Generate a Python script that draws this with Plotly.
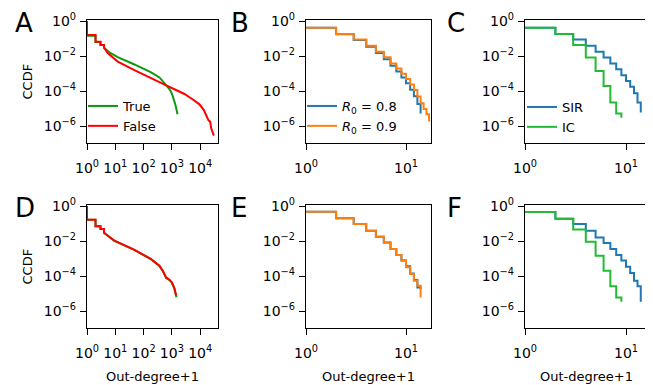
import plotly.graph_objects as go

# ---------------- data ----------------
# Panel A / D: CCDF of out-degree+1 (True / False).  Step part + tail part.
A_TRUE_STEP_X = [1, 2, 3]
A_TRUE_STEP_Y = [0.145, 0.063, 0.043]
A_TRUE_TAIL_X = [4, 6.2, 12.2, 47.4, 184.5, 363, 627, 822, 993, 1170, 1340, 1493, 1578]
A_TRUE_TAIL_Y = [0.030, 0.0162, 0.0087, 0.0033, 0.00117, 6.0e-4, 2.19e-4, 1.29e-4,
                 7.4e-5, 3.5e-5, 1.58e-5, 7.2e-6, 4.7e-6]

A_FALSE_STEP_X = [1, 2, 3]
A_FALSE_STEP_Y = [0.158, 0.066, 0.043]
A_FALSE_TAIL_X = [4, 5.4, 12.2, 47.4, 184.5, 363, 627, 1230, 2790, 5500, 9460, 13500,
                  16700, 19700, 22600, 24500, 30500]
A_FALSE_TAIL_Y = [0.030, 0.0148, 0.0048, 0.00158, 5.2e-4, 3.2e-4, 2.1e-4, 1.26e-4,
                  6.8e-5, 3.3e-5, 1.74e-5, 8.1e-6, 3.9e-6, 2.1e-6, 1.78e-6, 7.4e-7, 2.8e-7]

D_TRUE_STEP_X = [1, 2, 3]
D_TRUE_STEP_Y = [0.166, 0.069, 0.049]
D_TRUE_TAIL_X = [4, 9.3, 47.4, 184.5, 363, 479, 627, 822, 993, 1230, 1450]
D_TRUE_TAIL_Y = [0.030, 0.0102, 0.0031, 9.0e-4, 3.8e-4, 1.9e-4, 7.6e-5, 5.8e-5,
                 4.2e-5, 1.9e-5, 6.2e-6]

D_FALSE_STEP_X = [1, 2, 3]
D_FALSE_STEP_Y = [0.166, 0.069, 0.049]
D_FALSE_TAIL_X = [4, 9.3, 47.4, 184.5, 363, 479, 627, 822, 993, 1230, 1413]
D_FALSE_TAIL_Y = [0.030, 0.0105, 0.00316, 9.3e-4, 3.9e-4, 2.0e-4, 8.3e-5, 6.2e-5,
                  4.4e-5, 2.0e-5, 7.6e-6]

# Panel B / E: R0 = 0.8 and R0 = 0.9
B_R08_X = list(range(1, 15))
B_R08_Y = [0.417, 0.178, 0.083, 0.034, 0.0148, 0.0066, 0.0028, 0.00132, 6.0e-4,
           2.75e-4, 1.2e-4, 5.0e-5, 1.8e-5, 5.2e-6]
B_R09_X = list(range(1, 18))
B_R09_Y = [0.416, 0.181, 0.0895, 0.0389, 0.0177, 0.0084, 0.0038, 0.00197, 9.8e-4,
           4.9e-4, 2.4e-4, 1.15e-4, 4.8e-5, 2.0e-5, 9.3e-6, 4.7e-6, 1.8e-6]

E_R08_X = list(range(1, 15))
E_R08_Y = [0.48, 0.204, 0.093, 0.039, 0.0178, 0.0083, 0.0035, 0.00158, 7.6e-4,
           3.6e-4, 1.4e-4, 6.0e-5, 2.2e-5, 1.8e-5]
E_R09_X = list(range(1, 15))
E_R09_Y = [0.48, 0.204, 0.093, 0.039, 0.0178, 0.0083, 0.0035, 0.00158, 7.6e-4,
           3.2e-4, 1.29e-4, 5.4e-5, 2.8e-5, 6.0e-6]

# Panel C / F: SIR and IC
C_SIR_X = list(range(1, 15))
C_SIR_Y = [0.417, 0.182, 0.089, 0.039, 0.0178, 0.0083, 0.0038, 0.00174, 8.1e-4,
           3.7e-4, 1.78e-4, 7.4e-5, 2.24e-5, 6.0e-6]
C_IC_X = list(range(1, 10))
C_IC_Y = [0.417, 0.182, 0.0427, 0.0083, 0.00138, 1.95e-4, 2.24e-5, 5.2e-6, 3.0e-6]

F_SIR_X = list(range(1, 15))
F_SIR_Y = [0.45, 0.19, 0.093, 0.039, 0.0162, 0.0078, 0.0035, 0.00158, 7.6e-4,
           3.4e-4, 1.48e-4, 5.4e-5, 2.6e-5, 3.4e-6]
F_IC_X = list(range(1, 10))
F_IC_Y = [0.45, 0.19, 0.046, 0.0092, 0.00145, 2.0e-4, 2.6e-5, 6.0e-6, 3.4e-6]

CCDF_AT_ONE = 1.0

Y_TICKS = [1, 1e-2, 1e-4, 1e-6]
Y_TICKTEXT = ["10<sup>0</sup>", "10<sup>\u22122</sup>", "10<sup>\u22124</sup>", "10<sup>\u22126</sup>"]
XA_TICKS = [1, 10, 100, 1000, 10000]
XA_TICKTEXT = ["10<sup>0</sup>", "10<sup>1</sup>", "10<sup>2</sup>", "10<sup>3</sup>", "10<sup>4</sup>"]
XB_TICKS = [1, 10]
XB_TICKTEXT = ["10<sup>0</sup>", "10<sup>1</sup>"]

GREEN_A = "#0c9a0c"
RED = "#ff0000"
BLUE = "#1f77b4"
ORANGE = "#ff7f0e"
GREEN_C = "#22bb33"


def stairs_then_curve(sx, sy, tx, ty):
    px, py = [sx[0]], [CCDF_AT_ONE]
    for i in range(len(sx)):
        x_end = sx[i + 1] if i + 1 < len(sx) else tx[0]
        px += [sx[i], x_end]
        py += [sy[i], sy[i]]
    return px + list(tx), py + list(ty)


W, H = 653, 385
OFF = 8  # the page body margin shifts the figure by 8 px


def PX(v):
    return (v - OFF) / W


def PY(v):
    return (H - (v - OFF)) / H


fig = go.Figure()

# Panel A
x, y = stairs_then_curve(A_TRUE_STEP_X, A_TRUE_STEP_Y, A_TRUE_TAIL_X, A_TRUE_TAIL_Y)
fig.add_trace(go.Scatter(x=x, y=y, mode="lines", name="True", line=dict(color=GREEN_A, width=2),
                         xaxis="x", yaxis="y", legend="legend"))
x, y = stairs_then_curve(A_FALSE_STEP_X, A_FALSE_STEP_Y, A_FALSE_TAIL_X, A_FALSE_TAIL_Y)
fig.add_trace(go.Scatter(x=x, y=y, mode="lines", name="False", line=dict(color=RED, width=2),
                         xaxis="x", yaxis="y", legend="legend"))
# Panel B
fig.add_trace(go.Scatter(x=B_R08_X, y=B_R08_Y, mode="lines", line_shape="hv",
                         name="<i>R</i><sub>0</sub> = 0.8", line=dict(color=BLUE, width=2),
                         xaxis="x2", yaxis="y2", legend="legend2"))
fig.add_trace(go.Scatter(x=B_R09_X, y=B_R09_Y, mode="lines", line_shape="hv",
                         name="<i>R</i><sub>0</sub> = 0.9", line=dict(color=ORANGE, width=2),
                         xaxis="x2", yaxis="y2", legend="legend2"))
# Panel C
fig.add_trace(go.Scatter(x=C_SIR_X, y=C_SIR_Y, mode="lines", line_shape="hv", name="SIR",
                         line=dict(color=BLUE, width=2), xaxis="x3", yaxis="y3", legend="legend3"))
fig.add_trace(go.Scatter(x=C_IC_X, y=C_IC_Y, mode="lines", line_shape="hv", name="IC",
                         line=dict(color=GREEN_C, width=2), xaxis="x3", yaxis="y3", legend="legend3"))
# Panel D
x, y = stairs_then_curve(D_TRUE_STEP_X, D_TRUE_STEP_Y, D_TRUE_TAIL_X, D_TRUE_TAIL_Y)
fig.add_trace(go.Scatter(x=x, y=y, mode="lines", showlegend=False, line=dict(color=GREEN_A, width=2),
                         xaxis="x4", yaxis="y4"))
x, y = stairs_then_curve(D_FALSE_STEP_X, D_FALSE_STEP_Y, D_FALSE_TAIL_X, D_FALSE_TAIL_Y)
fig.add_trace(go.Scatter(x=x, y=y, mode="lines", showlegend=False, line=dict(color=RED, width=2),
                         xaxis="x4", yaxis="y4"))
# Panel E
fig.add_trace(go.Scatter(x=E_R08_X, y=E_R08_Y, mode="lines", line_shape="hv", showlegend=False,
                         line=dict(color=BLUE, width=2), xaxis="x5", yaxis="y5"))
fig.add_trace(go.Scatter(x=E_R09_X, y=E_R09_Y, mode="lines", line_shape="hv", showlegend=False,
                         line=dict(color=ORANGE, width=2), xaxis="x5", yaxis="y5"))
# Panel F
fig.add_trace(go.Scatter(x=F_SIR_X, y=F_SIR_Y, mode="lines", line_shape="hv", showlegend=False,
                         line=dict(color=BLUE, width=2), xaxis="x6", yaxis="y6"))
fig.add_trace(go.Scatter(x=F_IC_X, y=F_IC_Y, mode="lines", line_shape="hv", showlegend=False,
                         line=dict(color=GREEN_C, width=2), xaxis="x6", yaxis="y6"))

# window-pixel geometry of the panels
cols = [(PX(87), PX(218)), (PX(306), PX(431)), (PX(525), 1.0)]
xranges = [[0, 4.63], [0, 1.25], [0, (W + OFF - 525) / 101.0]]
rows = [(PY(143), PY(20)), (PY(328), PY(205))]
yrange = [-6.97, 0.06]

axis_common = dict(type="log", ticks="outside", ticklen=6, tickwidth=1.2, tickcolor="black",
                   showline=True, linewidth=1.3, linecolor="black", showgrid=False,
                   zeroline=False, automargin=False, tickfont=dict(size=14, color="black"))

layout = {}
for i in range(6):
    r, c = divmod(i, 3)
    n = "" if i == 0 else str(i + 1)
    xt = (XA_TICKS, XA_TICKTEXT) if c == 0 else (XB_TICKS, XB_TICKTEXT)
    layout["xaxis" + n] = dict(axis_common, domain=list(cols[c]), range=xranges[c],
                               tickvals=xt[0], ticktext=xt[1], mirror=True, anchor="y" + n,
                               ticklabelstandoff=6)
    layout["yaxis" + n] = dict(axis_common, domain=list(rows[r]), range=yrange,
                               tickvals=Y_TICKS, ticktext=Y_TICKTEXT, mirror=(c < 2),
                               anchor="x" + n, ticklabelstandoff=1)
fig.update_layout(**layout)

leg_common = dict(bgcolor="rgba(0,0,0,0)", font=dict(size=13, color="black"), xanchor="left",
                  yanchor="top", itemwidth=30, tracegroupgap=0)
fig.update_layout(
    legend=dict(leg_common, x=PX(123 - 40), y=PY(91)),
    legend2=dict(leg_common, x=PX(342 - 40), y=PY(91)),
    legend3=dict(leg_common, x=PX(562 - 40), y=PY(92)),
)

ann = []
for letter, px, py in [("A", 13, 23.5), ("B", 229, 23.5), ("C", 445, 23.5),
                       ("D", 13, 207.5), ("E", 229, 207.5), ("F", 445, 207.5)]:
    ann.append(dict(text=letter, x=PX(px), y=PY(py), xref="paper", yref="paper",
                    xanchor="left", yanchor="middle", showarrow=False,
                    font=dict(size=26, color="black")))
for py in [81.5, 266.5]:
    ann.append(dict(text="CCDF", x=PX(27), y=PY(py), xref="paper", yref="paper",
                    textangle=-90, xanchor="center", yanchor="middle", showarrow=False,
                    font=dict(size=13, color="black")))
for px in [152.5, 368.5, 586]:
    ann.append(dict(text="Out-degree+1", x=PX(px), y=PY(376), xref="paper", yref="paper",
                    xanchor="center", yanchor="middle", showarrow=False,
                    font=dict(size=13, color="black")))

fig.update_layout(template="none", width=W, height=H, autosize=False,
                  margin=dict(l=0, r=0, t=0, b=0, pad=0),
                  paper_bgcolor="white", plot_bgcolor="white",
                  font=dict(family="DejaVu Sans", size=13, color="black"),
                  annotations=ann)

fig.write_html("out.html")
